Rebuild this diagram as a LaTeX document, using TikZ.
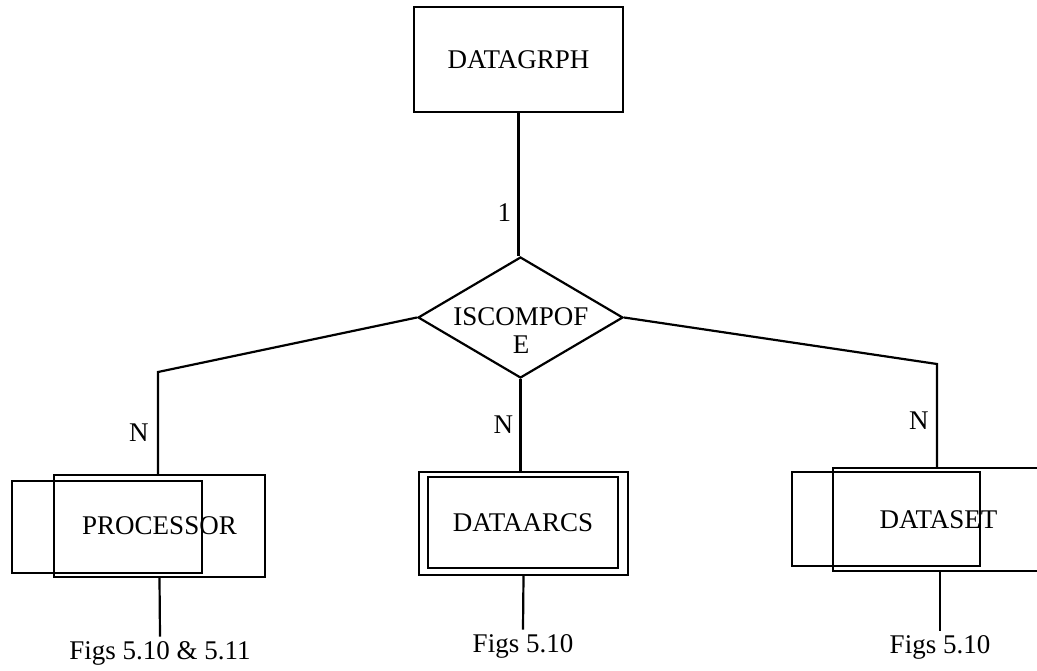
\documentclass[tikz,border=0pt]{standalone}
\usepackage{fontspec}
\setmainfont{Liberation Serif}
\usetikzlibrary{positioning}
\usetikzlibrary{shapes.geometric}

\begin{document}
\begin{tikzpicture}[
	x=1pt,y=-1pt,
	line width=2.2pt,
	every node/.style={font=\fontsize{27}{30}\selectfont},
	ent/.style={draw,rectangle,inner sep=0pt},
	rel/.style={draw,diamond,inner sep=0pt,minimum width=205pt,minimum height=121pt}
]
	\useasboundingbox (0,0) rectangle (1037,670);
	\clip (0,0) rectangle (1037,670);

	% entities and relationship
	\node[ent,minimum width=209pt,minimum height=105pt] (graph) at (518.5,59.5) {DATAGRPH};
	\node[rel] (iscomp) at (520.5,317.5) {};
	\node[align=center] (isctext) at (521,331) {ISCOMPOF\\[-2pt]E};

	\node[ent,minimum width=211pt,minimum height=102pt] (procA) at (159.5,526) {PROCESSOR};
	\node[ent,minimum width=190pt,minimum height=92pt] (procB) at (107,527) {};

	\node[ent,minimum width=209pt,minimum height=103pt] (arcsA) at (523.5,523.5) {};
	\node[ent,minimum width=190pt,minimum height=91pt] (arcsB) at (523,522.5) {DATAARCS};

	\node[ent,minimum width=211pt,minimum height=103pt] (setA) at (938.5,519.5) {DATASET};
	\node[ent,minimum width=188pt,minimum height=94pt] (setB) at (886,519) {};

	\coordinate (bendL) at (158,372);
	\coordinate (bendR) at (937,364);

	% connectors
	\draw (graph.south) -- node[left=3pt,pos=0.7](one){1} (graph.south |- iscomp.north);
	\draw (iscomp.west) -- (bendL) -- node[left=5pt,pos=0.6](nL){N} (bendL |- procA.north);
	\draw (iscomp.south) -- node[left=3pt,pos=0.5](nM){N} (iscomp.south |- arcsA.north);
	\draw (iscomp.east) -- (bendR) -- node[left=4pt,pos=0.55](nR){N} (bendR |- setA.north);

	% references to other figures
	\node (figP) at (160,653) {Figs 5.10 \& 5.11};
	\node (figA) at (523,646) {Figs 5.10};
	\node (figS) at (940,647) {Figs 5.10};
	\draw (procA.south) -- (figP.north);
	\draw (arcsA.south) -- (figA.north);
	\draw (setA.south -| figS.north) -- (figS.north);
\end{tikzpicture}
\end{document}
